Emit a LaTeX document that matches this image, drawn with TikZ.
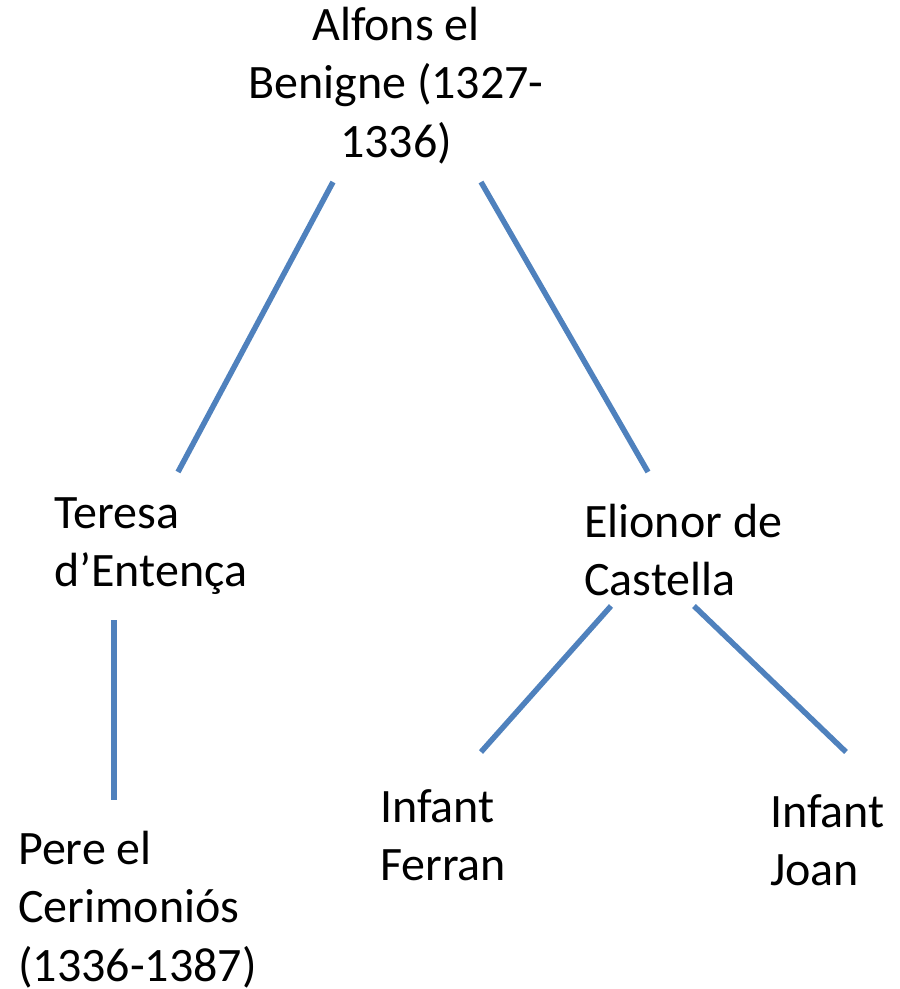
\documentclass[tikz,border=0pt]{standalone}
\usepackage{fontspec}
\setmainfont{Carlito}
\definecolor{linkblue}{HTML}{4F81BD}
\tikzset{
  link/.style={draw=linkblue, line width=5.5pt},
  lbl/.style={inner sep=0pt, anchor=base west, font=\fontsize{48}{58.6}\selectfont},
  clbl/.style={inner sep=0pt, anchor=base, font=\fontsize{48}{58.6}\selectfont}
}
\newcommand{\lnL}[1]{\hbox{#1}}
\newcommand{\lnC}[1]{\hbox to 0pt{\hss #1\hss}}
\begin{document}
\begin{tikzpicture}[x=1pt,y=-1pt]
\useasboundingbox (0,0) rectangle (900,989);
\node[clbl] (alfons) at (396,40) {\vtop{\lnC{Alfons el}\lnC{Benigne (1327-}\lnC{1336)}}};
\node[lbl] (teresa) at (54,528) {\vtop{\lnL{Teresa}\lnL{d’Entença}}};
\node[lbl] (elionor) at (584,537) {\vtop{\lnL{Elionor de}\lnL{Castella}}};
\node[lbl] (pere) at (18,864) {\vtop{\lnL{Pere el}\lnL{Cerimoniós}\lnL{(1336-1387)}}};
\node[lbl] (ferran) at (380,822) {\vtop{\lnL{Infant}\lnL{Ferran}}};
\node[lbl] (joan) at (770,827) {\vtop{\lnL{Infant}\lnL{Joan}}};
\draw[link] ([shift={(-63,142)}]alfons.base) -- ([shift={(124,-56)}]teresa.base west);
\draw[link] ([shift={(85,142)}]alfons.base) -- ([shift={(64,-65)}]elionor.base west);
\draw[link] ([shift={(60,92)}]teresa.base west) -- ([shift={(96,-64)}]pere.base west);
\draw[link] ([shift={(27,69)}]elionor.base west) -- ([shift={(101,-70)}]ferran.base west);
\draw[link] ([shift={(110,69)}]elionor.base west) -- ([shift={(76,-75)}]joan.base west);
\end{tikzpicture}
\end{document}
